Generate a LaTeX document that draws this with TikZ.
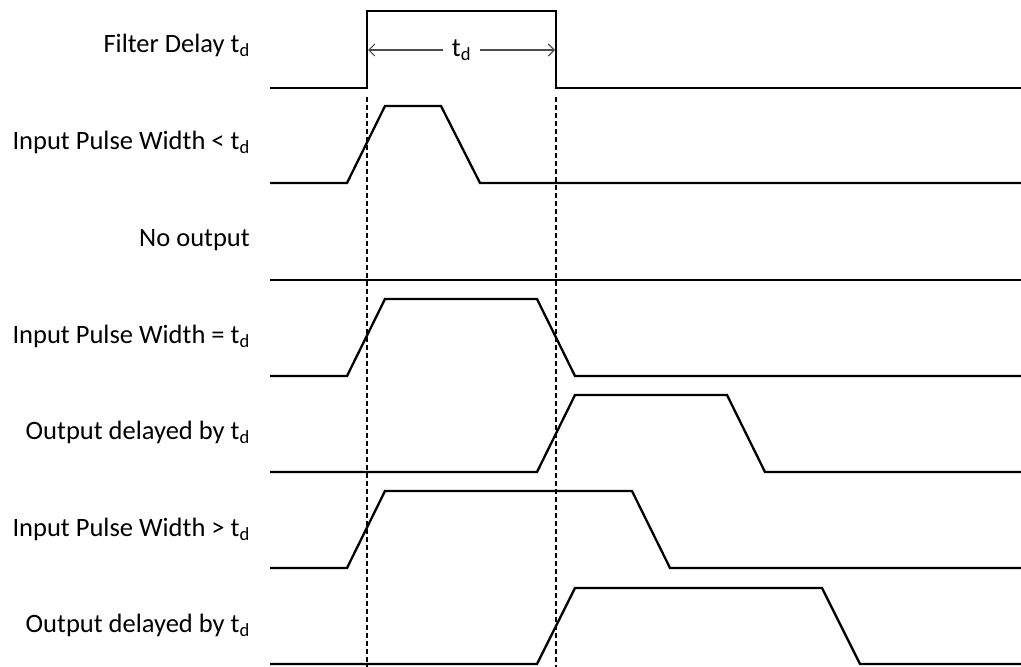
\documentclass[tikz,border=0pt]{standalone}
\usepackage{fontspec}
\setmainfont{Carlito}
\usetikzlibrary{arrows.meta}
\newcommand\tdsub{t\textsubscript{d}}
\begin{document}
\begin{tikzpicture}[x=1pt,y=-1pt,
  sig/.style={line width=2.3pt, line join=miter},
  guide/.style={line width=1.1pt, dash pattern=on 5pt off 3pt},
  lbl/.style={anchor=base east, font=\fontsize{26.5}{30}\selectfont, inner sep=0pt},
  dimline/.style={line width=1.1pt, draw=black!70, {Straight Barb[length=6pt,width=12pt]}-{Straight Barb[length=6pt,width=12pt]}},
  dimlbl/.style={fill=white, inner xsep=9pt, inner ysep=2pt, font=\fontsize{26.5}{30}\selectfont}]
\useasboundingbox (0,0) rectangle (1021,667);
% labels
\node[lbl] (l1) at (250,52) {Filter Delay \tdsub};
\node[lbl] (l2) at (250,149) {Input Pulse Width < \tdsub};
\node[lbl] (l3) at (250,246) {No output};
\node[lbl] (l4) at (250,343) {Input Pulse Width = \tdsub};
\node[lbl] (l5) at (250,439) {Output delayed by \tdsub};
\node[lbl] (l6) at (250,536) {Input Pulse Width > \tdsub};
\node[lbl] (l7) at (250,632) {Output delayed by \tdsub};
% guides
\draw[guide] (367,97) -- (367,667);
\draw[guide] (556,97) -- (556,667);
% signals
\draw[sig] (270,88) -- (367,88) -- (367,11) -- (556,11) -- (556,88) -- (1021,88);
\draw[sig] (270,183) -- (347,183) -- (385,106) -- (441,106) -- (480,183) -- (1021,183);
\draw[sig] (270,280) -- (1021,280);
\draw[sig] (270,376) -- (347,376) -- (385,299) -- (537,299) -- (575,376) -- (1021,376);
\draw[sig] (270,472) -- (537,472) -- (575,395) -- (727,395) -- (765,472) -- (1021,472);
\draw[sig] (270,568) -- (347,568) -- (385,491) -- (632,491) -- (670,568) -- (1021,568);
\draw[sig] (270,664) -- (537,664) -- (575,588) -- (822,588) -- (860,664) -- (1021,664);
% dimension
\coordinate (da) at (368,50);
\coordinate (db) at (555,50);
\draw[dimline] (da) -- (db) node[midway, dimlbl] (tdl) {\tdsub};
\end{tikzpicture}
\end{document}
